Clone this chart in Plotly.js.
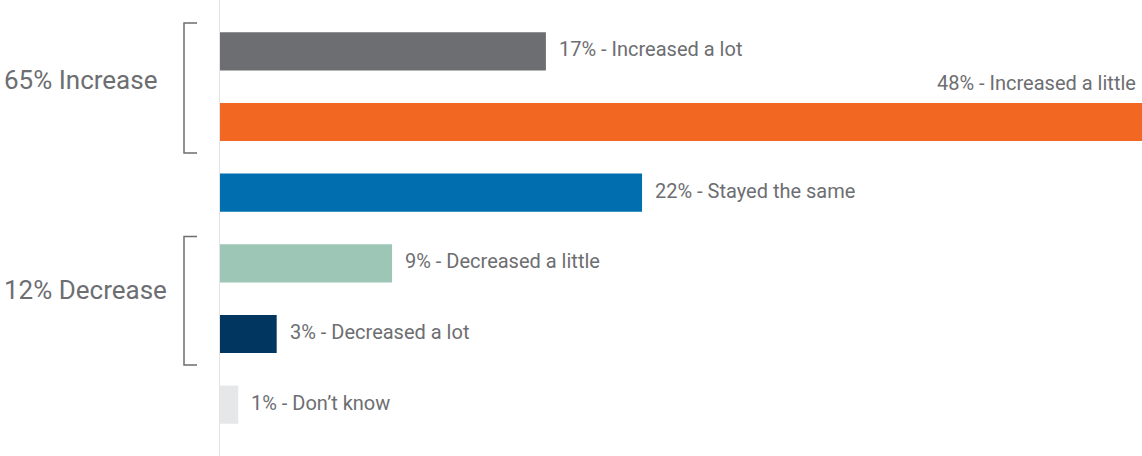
<!DOCTYPE html>
<html>
<head>
<meta charset="utf-8">
<script src="https://cdn.plot.ly/plotly-3.0.1.min.js"></script>
<style>html,body{margin:0;padding:0;background:#fff;}#chart{width:1142px;height:456px;}</style>
</head>
<body>
<div id="chart"></div>
<script>
const categories = ["Increased a lot", "Increased a little", "Stayed the same", "Decreased a little", "Decreased a lot", "Don\u2019t know"];
const values = [17, 48, 22, 9, 3, 1];
const barColors = ["#6d6e71", "#f26722", "#006eaf", "#9dc6b6", "#003660", "#e6e7e8"];
const groupLabels = ["65% Increase", "12% Decrease"];

const textColor = "#6d6e71";
const FONT = "Roboto, 'Open Sans', sans-serif";

const trace = {
  type: "bar",
  orientation: "h",
  x: values,
  y: categories,
  marker: {color: barColors, line: {width: 0}},
  width: 0.54,
  hoverinfo: "none"
};

const annotations = categories.map((c, i) => {
  const last = values[i] === Math.max(...values);
  return {
    x: values[i], y: c, xref: "x", yref: "y",
    text: values[i] + "% - " + c,
    showarrow: false,
    xanchor: last ? "right" : "left",
    xshift: last ? -4 : 11,
    yshift: last ? 39 : 2,
    font: {family: FONT, size: 20, color: textColor}
  };
});

annotations.push({
  x: -0.2351, xref: "paper", y: 0.41, yref: "y",
  text: groupLabels[0], showarrow: false, xanchor: "left",
  font: {family: FONT, size: 26, color: textColor}
});
annotations.push({
  x: -0.2351, xref: "paper", y: 3.38, yref: "y",
  text: groupLabels[1], showarrow: false, xanchor: "left",
  font: {family: FONT, size: 26, color: textColor}
});

const bx0 = (184 - 219) / 923, bx1 = (197 - 219) / 923;
function bracket(y0, y1) {
  return {
    type: "path", xref: "paper", yref: "y",
    path: `M ${bx1} ${y0} L ${bx0} ${y0} L ${bx0} ${y1} L ${bx1} ${y1}`,
    line: {color: "#6d6e71", width: 1.5}
  };
}

const layout = {
  width: 1142, height: 456,
  margin: {l: 219, r: 0, t: 15.6, b: 15.6, pad: 0},
  paper_bgcolor: "#fff", plot_bgcolor: "#fff",
  showlegend: false,
  xaxis: {range: [0, 48], visible: false, fixedrange: true},
  yaxis: {autorange: "reversed", showticklabels: false, showgrid: false, zeroline: false, showline: false, ticks: "", fixedrange: true},
  bargap: 0.46,
  annotations: annotations,
  shapes: [
    {type: "line", xref: "x", yref: "paper", x0: 0, x1: 0, y0: -0.04, y1: 1.04,
     line: {color: "#e3e3e3", width: 2}, layer: "above"},
    bracket(-0.4, 1.44),
    bracket(2.62, 4.44)
  ]
};

Plotly.newPlot("chart", [trace], layout, {displayModeBar: false, staticPlot: true});
</script>
</body>
</html>
